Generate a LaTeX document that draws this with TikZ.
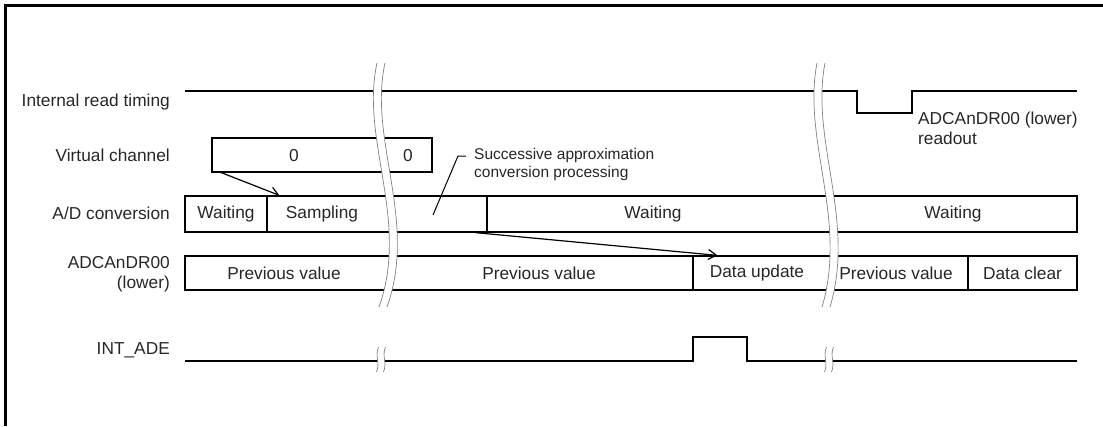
\documentclass[tikz,border=0pt]{standalone}
\usepackage{fontspec}
\setmainfont{Liberation Sans}
\usetikzlibrary{arrows.meta,calc}
\begin{document}
\begin{tikzpicture}[x=1bp,y=-1bp,
  sig/.style={line width=1.4bp, black, line join=miter},
  seg/.style={draw=black, line width=1.3bp, inner sep=0pt, font=\fontsize{17.3bp}{20bp}\selectfont, text=black!85},
  lbl/.style={inner sep=0pt, font=\fontsize{17.3bp}{20bp}\selectfont, text=black!85},
  small/.style={inner sep=0pt, font=\fontsize{15.5bp}{17.5bp}\selectfont, text=black!85},
  arr/.style={line width=1.2bp, -{Straight Barb[length=8bp,width=10bp,line width=1.2bp]}},
  brk/.style={draw=black!50, line width=0.7bp},
]
\useasboundingbox (0,0) rectangle (1103,426);
% frame
\draw[line width=3bp] (5,426) -- (5,5) -- (1103,5);

% row labels
\node[lbl, anchor=east] (l1) at (170,102) {Internal read timing};
\node[lbl, anchor=east] (l2) at (170,155) {Virtual channel};
\node[lbl, anchor=east] (l3) at (170,213) {A/D conversion};
\node[lbl, anchor=east, align=right] (l4) at (170,274) {ADCAnDR00\\(lower)};
\node[lbl, anchor=east] (l5) at (170,350) {INT\_ADE};

% Internal read timing
\coordinate (ir0) at (185,91);
\coordinate (ir1) at (857,91);
\coordinate (ir2) at (857,113);
\coordinate (ir3) at (912,113);
\coordinate (ir4) at (912,91);
\coordinate (ir5) at (1077,91);
\draw[sig] (ir0) -- (ir1) -- (ir2) -- (ir3) -- (ir4) -- (ir5);
\node[lbl, anchor=west, align=left] (rd) at (918,128) {ADCAnDR00 (lower)\\readout};

% Virtual channel
\node[seg, minimum width=220bp, minimum height=34bp] (vc) at (322,155) {};
\node[lbl] (vc0) at (294,156) {0};
\node[lbl] (vc1) at (408,156) {0};

% A/D conversion
\node[seg, minimum width=82bp, minimum height=36bp] (ad1) at (226,214) {Waiting};
\node[seg, minimum width=220bp, minimum height=36bp] (ad2) at (377,214) {};
\node[seg, minimum width=590bp, minimum height=36bp] (ad3) at (782,214) {};
\node[lbl] (ad2t) at (322,214) {Sampling};
\node[lbl] (ad3a) at (653,214) {Waiting};
\node[lbl] (ad3b) at (953,214) {Waiting};

% ADCAnDR00
\node[seg, minimum width=508bp, minimum height=34bp] (dr1) at (439,273) {};
\node[seg, minimum width=275bp, minimum height=34bp] (dr2) at (830.5,273) {};
\node[seg, minimum width=109bp, minimum height=34bp] (dr3) at (1022.5,273) {Data clear};
\node[lbl] (dr1a) at (284,273) {Previous value};
\node[lbl] (dr1b) at (539,273) {Previous value};
\node[lbl] (dr2a) at (757,273) {Data update};
\node[lbl] (dr2b) at (896,273) {Previous value};

% INT_ADE
\coordinate (ia0) at (185,361);
\coordinate (ia1) at (693,361);
\coordinate (ia2) at (693,337);
\coordinate (ia3) at (747,337);
\coordinate (ia4) at (747,361);
\coordinate (ia5) at (1077,361);
\draw[sig] (ia0) -- (ia1) -- (ia2) -- (ia3) -- (ia4) -- (ia5);

% arrows
\draw[arr] ($(vc.south west)+(10,0)$) -- ($(ad2.north west)+(13,0)$);
\draw[arr] ($(ad2.south east)+(-12,0)$) -- ($(dr2.north west)+(25,0)$);

% annotation
\coordinate (ldA) at (433,215);
\coordinate (ldB) at (458,156);
\coordinate (ldC) at (466,156);
\draw[line width=1bp] (ldA) -- (ldB) -- (ldC);
\node[small, anchor=west, align=left] (sap) at (474,164.5) {Successive approximation\\conversion processing};

% break marks (big)
\fill[white] (377,63) .. controls (360,140) and (410,220) .. (379,307)
  -- (387,307) .. controls (418,220) and (368,140) .. (385,63) -- cycle;
\draw[brk] (377,63) .. controls (360,140) and (410,220) .. (379,307);
\draw[brk] (385,63) .. controls (368,140) and (418,220) .. (387,307);
\fill[white] (817,63) .. controls (802,140) and (848,220) .. (822,307)
  -- (830,307) .. controls (856,220) and (810,140) .. (825,63) -- cycle;
\draw[brk] (817,63) .. controls (802,140) and (848,220) .. (822,307);
\draw[brk] (825,63) .. controls (810,140) and (856,220) .. (830,307);

% break marks (small, on INT_ADE)
\fill[white] (378.5,347) .. controls (374.5,357) and (380.5,362) .. (376.5,372)
  -- (383.5,372) .. controls (387.5,362) and (381.5,357) .. (385.5,347) -- cycle;
\draw[brk] (378.5,347) .. controls (374.5,357) and (380.5,362) .. (376.5,372);
\draw[brk] (385.5,347) .. controls (381.5,357) and (387.5,362) .. (383.5,372);
\fill[white] (826.5,347) .. controls (822.5,357) and (828.5,362) .. (824.5,372)
  -- (831.5,372) .. controls (835.5,362) and (829.5,357) .. (833.5,347) -- cycle;
\draw[brk] (826.5,347) .. controls (822.5,357) and (828.5,362) .. (824.5,372);
\draw[brk] (833.5,347) .. controls (829.5,357) and (835.5,362) .. (831.5,372);
\end{tikzpicture}
\end{document}
